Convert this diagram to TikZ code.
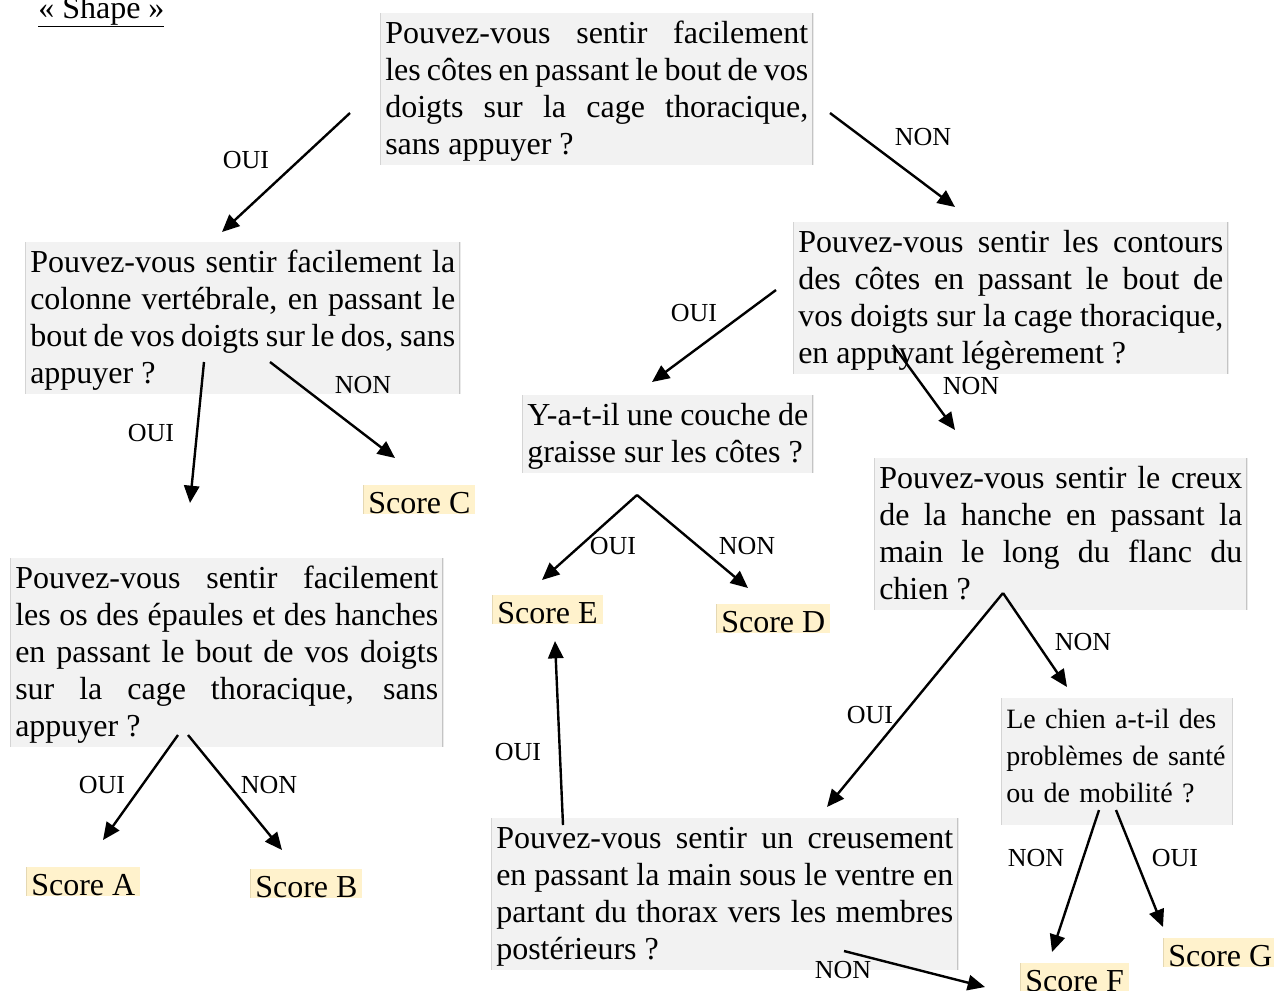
\documentclass[tikz,border=0pt]{standalone}
\usepackage{fontspec}
\setmainfont{Liberation Serif}
\usetikzlibrary{arrows.meta}

\definecolor{qgray}{HTML}{F2F2F2}
\definecolor{qedge}{HTML}{C4C4C4}
\definecolor{scorefill}{HTML}{FFF2CC}
\definecolor{scoreedge}{HTML}{D8CBA6}
\newcommand\qfont{\fontsize{24pt}{27.75pt}\selectfont\hyphenpenalty=10000 \tolerance=10000 }
\newcommand\bst{\rule[-6.75pt]{0pt}{27.75pt}}

\begin{document}
\begin{tikzpicture}[x=0.75pt, y=-0.75pt, >={Triangle[length=13pt,width=11.5pt]},
    qbox/.style={anchor=north west, fill=qgray, inner xsep=3.75pt, inner ysep=1.5pt,
        align=justify, font=\qfont,
        path picture={\draw[qedge, line width=1.2pt]
            (path picture bounding box.north west) -- (path picture bounding box.south west)
            (path picture bounding box.north east) -- (path picture bounding box.south east);}},
    score/.style={anchor=north west, fill=scorefill, inner xsep=3.75pt, inner ysep=0pt,
        text height=21pt, text depth=0.75pt, font=\qfont,
        path picture={\draw[scoreedge, line width=1.2pt]
            (path picture bounding box.north west) -- (path picture bounding box.south west);}},
    lab/.style={inner sep=0pt, font=\fontsize{19.5pt}{22pt}\selectfont}]
    \useasboundingbox (0,0) rectangle (1274,990);

    % title
    \node[anchor=base west, inner sep=0pt, font=\qfont] (title) at (38,18) {\underline{«~Shape~»}};

    % questions
    \node[qbox, text width=317.25pt] (q1) at (380,13)
        {\bst Pouvez-vous sentir facilement\linebreak les côtes en passant le bout de vos\linebreak doigts sur la cage thoracique,\linebreak sans appuyer ?\bst};
    \node[qbox, text width=318.75pt] (q2) at (25,242)
        {\bst Pouvez-vous sentir facilement la\linebreak colonne vertébrale, en passant le\linebreak bout de vos doigts sur le dos, sans\linebreak appuyer ?\bst};
    \node[qbox, text width=318.75pt] (q3) at (793,222)
        {\bst Pouvez-vous sentir les contours\linebreak des côtes en passant le bout de\linebreak vos doigts sur la cage thoracique,\linebreak en appuyant légèrement ?\bst};
    \node[qbox, text width=210.75pt] (q4) at (522,395)
        {\bst Y-a-t-il une couche de\linebreak graisse sur les côtes ?\bst};
    \node[qbox, text width=272.25pt] (q5) at (874,458)
        {\bst Pouvez-vous sentir le creux\linebreak de la hanche en passant la\linebreak main le long du flanc du\linebreak chien ?\bst};
    \node[qbox, text width=317.25pt] (q6) at (10,558)
        {\bst Pouvez-vous sentir facilement\linebreak les os des épaules et des hanches\linebreak en passant le bout de vos doigts\linebreak sur la cage thoracique, sans\linebreak appuyer ?\bst};
    \node[qbox, text width=166pt, align=left, font=\fontsize{21pt}{27.75pt}\selectfont] (q7) at (1001,698)
        {\bst Le chien a-t-il des\\ problèmes de santé\\ ou de mobilité ?\rule[-15.75pt]{0pt}{0pt}};
    \node[qbox, text width=342.75pt] (q8) at (491,818)
        {\bst Pouvez-vous sentir un creusement\linebreak en passant la main sous le ventre en\linebreak partant du thorax vers les membres\linebreak postérieurs ?\bst};

    % scores
    \node[score] (sA) at (26,867) {Score A};
    \node[score] (sB) at (250,869) {Score B};
    \node[score] (sC) at (363,485) {Score C};
    \node[score] (sD) at (716,604) {Score D};
    \node[score] (sE) at (492,595) {Score E};
    \node[score] (sF) at (1020,963) {Score F};
    \node[score] (sG) at (1163,938) {Score G};

    % arrows
    \foreach \n/\xa/\ya/\xb/\yb in {1/350/113/222/232, 2/830/113/955/207, 3/204/362/190/503,
        4/270/362/395/458, 5/776/290/652/382, 6/893/345/955/430, 7/637/495/542/580,
        8/637/495/748/588, 9/178/735/103/840, 10/188/735/282/850, 11/1003/593/827/807,
        12/1003/593/1067/687, 13/563/825/555/641, 14/844/951/985/987,
        15/1099/810/1052/952, 16/1116/810/1163/927}
    {
        \coordinate (s\n) at (\xa,\ya);
        \coordinate (e\n) at (\xb,\yb);
        \draw[->, line width=1.8pt] (s\n) -- (e\n);
    }

    % answers
    \foreach \n/\x/\y/\t in {1/246/160/OUI, 2/923/137/NON, 3/151/433/OUI, 4/363/385/NON,
        5/694/313/OUI, 6/971/386/NON, 7/613/546/OUI, 8/747/546/NON, 9/102/785/OUI,
        10/269/785/NON, 11/870/715/OUI, 12/1083/642/NON, 13/518/752/OUI, 14/843/970/NON,
        15/1036/858/NON, 16/1175/858/OUI}
    {
        \node[lab] (l\n) at (\x,\y) {\t};
    }
\end{tikzpicture}
\end{document}
